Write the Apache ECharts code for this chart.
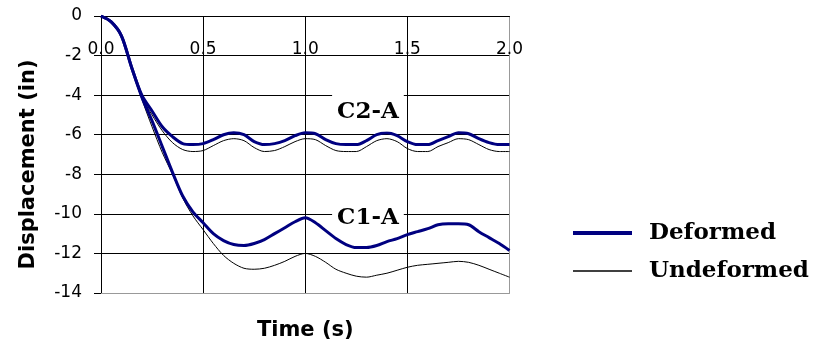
<!DOCTYPE html>
<html>
<head>
<meta charset="utf-8">
<script src="https://cdn.jsdelivr.net/npm/echarts@6/dist/echarts.min.js"></script>
<style>
html,body{margin:0;padding:0;background:#fff;}
#chart{width:817px;height:347px;}
</style>
</head>
<body>
<div id="chart"></div>
<script>
// ---- data ----
const times = [0,0.05,0.1,0.15,0.2,0.25,0.3,0.35,0.4,0.45,0.5,0.55,0.6,0.65,0.7,0.75,0.8,0.85,0.9,0.95,1.0,
  1.05,1.1,1.15,1.2,1.25,1.3,1.35,1.4,1.45,1.5,1.55,1.6,1.65,1.7,1.75,1.8,1.85,1.9,1.95,2.0];
const c2Deformed = [0,-0.3,-1.0,-2.6,-4.0,-4.8,-5.6,-6.1,-6.45,-6.5,-6.45,-6.25,-6.0,-5.9,-6.0,-6.35,-6.5,-6.45,-6.3,-6.05,-5.9,
  -5.95,-6.25,-6.45,-6.5,-6.5,-6.3,-6.0,-5.9,-6.05,-6.35,-6.5,-6.5,-6.3,-6.1,-5.9,-5.95,-6.2,-6.4,-6.5,-6.5];
const c2Undeformed = [0,-0.3,-1.0,-2.6,-4.1,-5.0,-5.8,-6.4,-6.75,-6.85,-6.8,-6.55,-6.3,-6.2,-6.3,-6.65,-6.85,-6.8,-6.6,-6.35,-6.2,
  -6.25,-6.55,-6.8,-6.85,-6.85,-6.6,-6.3,-6.2,-6.35,-6.7,-6.85,-6.85,-6.6,-6.4,-6.2,-6.25,-6.5,-6.75,-6.85,-6.85];
const c1Deformed = [0,-0.3,-1.0,-2.6,-4.1,-5.3,-6.6,-7.9,-9.1,-9.9,-10.45,-11.0,-11.35,-11.55,-11.6,-11.5,-11.3,-11.0,-10.7,-10.4,-10.2,
  -10.45,-10.85,-11.25,-11.55,-11.7,-11.7,-11.6,-11.4,-11.25,-11.05,-10.9,-10.75,-10.55,-10.5,-10.5,-10.55,-10.9,-11.2,-11.5,-11.85];
const c1Undeformed = [0,-0.3,-1.0,-2.6,-4.2,-5.6,-6.9,-8.0,-9.2,-10.1,-10.8,-11.5,-12.1,-12.5,-12.75,-12.8,-12.75,-12.6,-12.4,-12.15,-12.0,
  -12.15,-12.45,-12.8,-13.0,-13.15,-13.2,-13.1,-13.0,-12.85,-12.7,-12.6,-12.55,-12.5,-12.45,-12.4,-12.45,-12.6,-12.8,-13.0,-13.2];
const caseLabels = ['C2-A', 'C1-A'];
const caseLabelCoords = [[1.307, -4.85], [1.307, -10.2]];
const legendNames = ['Deformed', 'Undeformed'];

// ---- chart ----
const pairs = arr => times.map((t, i) => [t, arr[i]]);
const chart = echarts.init(document.getElementById('chart'), null, {renderer: 'canvas'});
const serifBold = {fontFamily: 'DejaVu Serif', fontWeight: 'bold', fontSize: 23, color: '#000'};
const BLUE = '#000080';

chart.setOption({
  animation: false,
  backgroundColor: '#fff',
  grid: {left: 101, top: 16, width: 408.5, height: 277, containLabel: false},
  legend: {
    data: [
      {name: legendNames[0], icon: 'path://M0,0L60,0L60,4L0,4Z', itemStyle: {color: BLUE}},
      {name: legendNames[1], icon: 'path://M0,0L60,0L60,1.4L0,1.4Z', itemStyle: {color: '#000'}}
    ],
    orient: 'vertical',
    left: 568, top: 216,
    itemWidth: 59, itemHeight: 14, itemGap: 14,
    textStyle: Object.assign({lineHeight: 24, padding: [0, 0, 0, 12]}, serifBold)
  },
  xAxis: [{
    type: 'value', min: 0, max: 2, interval: 0.5, position: 'top',
    axisLine: {show: true, lineStyle: {color: '#000', width: 1}},
    axisTick: {show: false},
    axisLabel: {formatter: v => v.toFixed(1), margin: -34, verticalAlign: 'middle',
      fontFamily: 'DejaVu Sans', fontSize: 17, color: '#000'},
    splitLine: {show: true, lineStyle: {color: ['#000', '#000', '#000', '#000', '#999'], width: 1}}
  }, {
    type: 'value', min: 0, max: 2, interval: 0.5, position: 'bottom',
    axisLine: {show: true, lineStyle: {color: '#999', width: 1}},
    axisTick: {show: false}, axisLabel: {show: false}, splitLine: {show: false},
    name: 'Time (s)', nameLocation: 'middle', nameGap: 27,
    nameTextStyle: {fontFamily: 'DejaVu Sans', fontWeight: 'bold', fontSize: 21, color: '#000'}
  }],
  yAxis: {
    type: 'value', min: -14, max: 0, interval: 2,
    axisLine: {show: true, lineStyle: {color: '#000', width: 1}},
    axisTick: {show: true, inside: false, length: 7, lineStyle: {color: '#000'}},
    axisLabel: {margin: 19, fontFamily: 'DejaVu Sans', fontSize: 17, color: '#000'},
    splitLine: {show: true, lineStyle: {color: ['#999', '#000', '#000', '#000', '#000', '#000', '#000', '#000'], width: 1}},
    name: 'Displacement (in)', nameLocation: 'middle', nameGap: 62,
    nameTextStyle: {fontFamily: 'DejaVu Sans', fontWeight: 'bold', fontSize: 21, color: '#000', padding: [0, 20, 0, 0]}
  },
  series: [
    {name: 'Undeformed', type: 'line', xAxisIndex: 0, data: pairs(c2Undeformed), symbol: 'none', smooth: 0.3,
      lineStyle: {color: '#000', width: 1}, itemStyle: {color: '#000'}, z: 3},
    {name: 'Undeformed', type: 'line', xAxisIndex: 0, data: pairs(c1Undeformed), symbol: 'none', smooth: 0.3,
      lineStyle: {color: '#000', width: 1}, itemStyle: {color: '#000'}, z: 3},
    {name: 'Deformed', type: 'line', xAxisIndex: 0, data: pairs(c2Deformed), symbol: 'none', smooth: 0.3,
      lineStyle: {color: BLUE, width: 3}, itemStyle: {color: BLUE}, z: 4,
      markPoint: {
        symbol: 'rect', symbolSize: 0, silent: true,
        label: Object.assign({show: true, position: 'inside', formatter: p => p.name,
          backgroundColor: '#fff', lineHeight: 22}, serifBold),
        data: [
          {name: caseLabels[0], coord: caseLabelCoords[0], label: {padding: [17, 5, 0, 5]}},
          {name: caseLabels[1], coord: caseLabelCoords[1], label: {padding: [1, 5, 1, 5]}}
        ]
      }},
    {name: 'Deformed', type: 'line', xAxisIndex: 0, data: pairs(c1Deformed), symbol: 'none', smooth: 0.3,
      lineStyle: {color: BLUE, width: 3}, itemStyle: {color: BLUE}, z: 4}
  ]
});
</script>
</body>
</html>
